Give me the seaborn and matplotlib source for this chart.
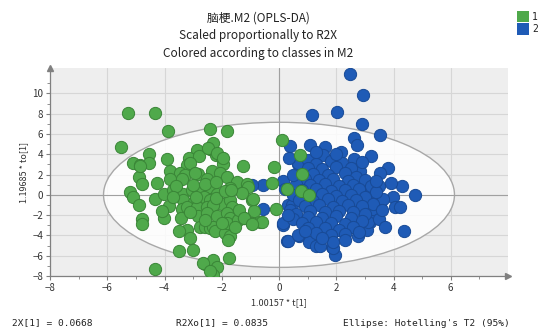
import numpy as np
import pandas as pd
import matplotlib
matplotlib.use("Agg")
import matplotlib.pyplot as plt
from matplotlib.patches import Ellipse, Rectangle
import seaborn as sns

# ---- score values (t[1] scaled, to[1] scaled) ----
class1_t = [
    -5.27, -4.32, -3.88, -2.40, -1.81, -5.52, -4.53, -3.92, -2.87, -2.40,
    -2.32, -5.11, -4.84, -4.53, -3.16, -2.81, -3.22, -2.19, -2.00, -1.96,
    -1.26, -2.34, -2.84, -3.80, -3.45, -3.28, -4.90, -4.78, -4.26, -3.80,
    -3.39, -2.52, -2.06, -1.82, -1.45, -1.13, -1.07, -1.71, -5.22, -5.10,
    -4.90, -4.32, -3.86, -4.03, -3.71, -3.34, -3.04, -2.75, -2.43, -2.17,
    -3.34, -2.97, -2.62, -2.40, -2.00, -1.71, -1.65, -0.95, -3.39, -3.20,
    -2.87, -2.52, -2.30, -2.84, -2.50, -2.17, -1.82, -1.71, -0.86, -4.78,
    -4.78, -4.03, -3.41, -3.22, -3.51, -3.10, -2.75, -2.58, -2.40, -2.29,
    -2.23, -1.88, -1.71, -1.82, -1.42, -1.24, -0.95, -0.66, -3.51, -2.99,
    -2.60, -2.29, -2.17, -2.31, -1.73, -4.32, 0.12, -0.18, -0.24, -0.09,
    0.73, 0.79, 0.27, 0.76, 1.06, -0.60, -4.87, -3.10, -2.93, -2.47,
    -2.17, -1.94, -3.00, -2.60, -2.20, -3.60, -2.90, -2.20, -1.90, -3.10,
    -2.60, -1.40, -1.30, -3.70, -4.10, -2.00, -1.53, -1.77, -0.90, -1.67,
    -2.64, -2.40, -1.24, -0.95,
]
class1_to = [
    8.07, 8.07, 6.33, 6.49, 6.33, 4.71, 4.04, 3.49, 4.46, 4.55,
    5.10, 3.17, 2.94, 3.17, 3.65, 3.81, 2.94, 3.97, 3.65, 3.00,
    2.84, 2.36, 2.10, 2.36, 2.20, 1.97, 1.78, 1.06, 1.16, 1.55,
    1.55, 1.55, 2.20, 1.78, 1.23, 1.06, 0.75, 0.68, 0.26, -0.22,
    -1.03, -0.39, -1.12, 0.10, 0.43, 0.10, 0.43, 0.43, 0.75, 0.10,
    -0.55, -0.71, -0.22, -0.55, -0.87, -0.55, -1.19, -0.48, -1.35, -1.20,
    -1.19, -1.19, -1.05, -2.09, -1.84, -2.09, -1.84, -2.32, -1.58, -2.38,
    -2.90, -2.26, -2.32, -3.45, -3.61, -4.26, -3.13, -3.19, -3.29, -3.13,
    -3.61, -3.77, -4.09, -2.81, -2.48, -2.26, -2.81, -2.64, -5.55, -5.48,
    -6.84, -6.42, -7.16, -7.87, -6.19, -7.32, 5.45, 2.75, 1.13, -1.35,
    3.97, 2.03, 0.58, 0.33, 0.00, -2.64, 2.84, 3.17, 2.20, 4.62,
    4.13, 3.65, 1.00, 1.10, 1.30, 0.90, -0.20, -0.30, 0.40, -1.70,
    -2.50, -1.50, 0.20, -0.20, -1.60, -2.80, -3.13, -4.42, -0.39, 0.43,
    -6.68, -7.50, -2.32, -2.90,
]

class2_t = [
    2.47, 2.92, 1.16, 2.01, 2.89, 3.54, 2.62, 2.72, 0.38, 1.08,
    1.60, 2.18, 3.23, 0.67, 1.54, 2.62, 3.81, 3.52, 2.82, -0.57,
    0.15, 4.31, 4.74, 3.50, 3.98, 4.04, 4.22, -0.55, 0.32, 0.13,
    0.27, 0.71, 1.05, 1.29, 1.84, 1.95, 2.76, 4.36, 3.17, 3.06,
    3.34, 3.52, 3.17, 2.99, -0.95, -1.38, 0.65, 0.15, 0.32, 0.67,
    0.44, 3.63, 3.29, 3.11, 1.89, 1.43,
    1.0, 1.3, 1.8, 2.2, 1.0, 1.5, 2.0, 2.5, 1.2, 1.7,
    2.3, 2.7, 0.9, 1.4, 1.9, 2.4, 3.0, 0.6, 1.1, 1.6,
    2.1, 2.6, 3.2, 0.8, 1.3, 1.8, 2.3, 2.8, 3.4, 0.5,
    1.0, 1.5, 2.0, 2.5, 3.0, 0.7, 1.2, 1.7, 2.2, 2.7,
    3.3, 0.4, 0.9, 1.4, 1.9, 2.4, 2.9, 0.6, 1.1, 1.6,
    2.1, 2.6, 3.0, 0.5, 1.0, 1.5, 2.0, 2.5, 2.9, 0.8,
    1.3, 1.8, 2.3, 2.6, 1.0, 1.6, 2.1, 1.3, 1.8, 2.3,
    0.3, 0.2, 0.5, 1.9, 2.3, 1.5, 0.9, 2.8, 3.5, 3.6,
    3.4, 3.9, 3.7, 0.35, 2.9, 1.3, 2.0,
]
class2_to = [
    11.88, 9.84, 7.84, 8.17, 6.94, 5.91, 5.65, 4.88, 4.78, 4.88,
    4.68, 4.23, 3.81, 3.07, 3.97, 3.49, 2.68, 2.20, 2.36, 1.01,
    1.33, 0.91, -0.06, 0.84, -0.22, -1.19, -1.19, -1.41, -1.03, -2.96,
    -4.51, -4.10, -4.68, -5.00, -5.13, -5.96, -4.10, -3.61, -2.64, -3.45,
    -1.84, -0.87, -0.55, 0.26, 0.97, 0.65, 3.17, -2.81, -4.58, -3.93,
    -1.03, -0.39, -1.35, -2.64, -5.22, -5.06,
    3.4, 3.0, 3.3, 3.1, 2.6, 2.5, 2.7, 2.6, 2.1, 2.0,
    2.2, 1.8, 1.6, 1.5, 1.6, 1.4, 1.5, 1.1, 1.0, 1.1,
    0.9, 1.0, 0.9, 0.5, 0.6, 0.4, 0.5, 0.6, 0.3, 0.0,
    -0.1, 0.1, -0.1, 0.0, -0.2, -0.5, -0.6, -0.4, -0.6, -0.5,
    -0.9, -1.5, -1.1, -1.0, -1.2, -1.0, -1.1, -1.9, -1.6, -1.7,
    -1.6, -1.7, -1.9, -2.4, -2.2, -2.3, -2.1, -2.3, -2.6, -2.8,
    -2.7, -2.8, -2.9, -3.2, -3.3, -3.3, -3.5, -3.8, -4.0, -3.9,
    -2.0, 0.6, 2.0, -4.6, -4.5, -4.3, -3.6, -3.7, -2.4, -1.5,
    1.4, 1.2, -3.2, 3.6, 3.2, 4.2, 4.0,
]

class_labels = ["1", "2"]
class_colors = {"1": "#4fa94b", "2": "#1f5bb6"}
edge_colors = {"1": "#3a8537", "2": "#184a96"}

x_ticks = [-8, -6, -4, -2, 0, 2, 4, 6]
y_ticks = [-8, -6, -4, -2, 0, 2, 4, 6, 8, 10]

title_lines = ["脑梗.M2 (OPLS-DA)", "Scaled proportionally to R2X",
               "Colored according to classes in M2"]
footer_left = "2X[1] = 0.0668"
footer_mid = "R2Xo[1] = 0.0835"
footer_right = "Ellipse: Hotelling's T2 (95%)"
x_label = "1.00157 * t[1]"
y_label = "1.19685 * to[1]"

# Hotelling T2 (95%) semi-axes
ell_a, ell_b = 6.13, 7.15

df = pd.concat([
    pd.DataFrame({"t": class1_t, "to": class1_to, "cls": "1"}),
    pd.DataFrame({"t": class2_t, "to": class2_to, "cls": "2"}),
], ignore_index=True)

sns.set_theme(style="white")
plt.rcParams["font.family"] = ["Noto Sans CJK SC", "DejaVu Sans"]

fig = plt.figure(figsize=(5.42, 3.31), dpi=100)
ax = fig.add_axes([50 / 542, 55 / 331, 458 / 542, 208 / 331])
ax.set_facecolor("#eeeeee")

ax.set_xlim(-8, 8)
ax.set_ylim(-8, 12.5)
ax.set_xticks(x_ticks)
ax.set_yticks(y_ticks)
ax.set_xticks(np.arange(-8, 8, 1), minor=True)
ax.set_yticks(np.arange(-8, 12, 1), minor=True)
ax.grid(True, which="major", color="#d6d6d6", lw=0.8, zorder=0)
ax.set_axisbelow(True)

ax.add_patch(Ellipse((0, 0), 2 * ell_a, 2 * ell_b, facecolor="white",
                     alpha=0.85, edgecolor="none", zorder=1))
ax.add_patch(Ellipse((0, 0), 2 * ell_a, 2 * ell_b, facecolor="none",
                     edgecolor="#a8a8a8", lw=1.0, zorder=2))
ax.axhline(0, color="#a0a0a0", lw=0.8, zorder=2)
ax.axvline(0, color="#a0a0a0", lw=0.8, zorder=2)

for cls in ["2", "1"]:
    sub = df[df["cls"] == cls]
    sns.scatterplot(data=sub, x="t", y="to", ax=ax, color=class_colors[cls],
                    edgecolor=edge_colors[cls], linewidth=0.7, s=78,
                    zorder=3, legend=False)

for side in ["top", "right"]:
    ax.spines[side].set_visible(False)
for side in ["left", "bottom"]:
    ax.spines[side].set_color("#808080")
    ax.spines[side].set_linewidth(0.9)
ax.plot(1, 0, ">", transform=ax.transAxes, color="#808080", ms=5,
        clip_on=False, zorder=5)
ax.plot(0, 1, "^", transform=ax.transAxes, color="#808080", ms=5,
        clip_on=False, zorder=5)

ax.tick_params(which="major", direction="out", length=3, width=0.8,
               color="#808080", labelsize=7, labelcolor="#333333", pad=2,
               bottom=True, left=True)
ax.tick_params(which="minor", direction="out", length=2, width=0.6,
               color="#808080", bottom=True, left=True)

ax.set_xlabel(x_label, fontsize=6.5, color="#333333", labelpad=4)
ax.set_ylabel(y_label, fontsize=6.5, color="#333333", labelpad=3)

for i, line in enumerate(title_lines):
    fig.text(258 / 542, 1 - (18 + 17.5 * i) / 331, line, ha="center",
             va="center", fontsize=8.5, color="#222222")

mono = "DejaVu Sans Mono"
fig.text(12 / 542, 1 - 323 / 331, footer_left, family=mono, fontsize=6.8,
         va="center", ha="left", color="#222222")
fig.text(176 / 542, 1 - 323 / 331, footer_mid, family=mono, fontsize=6.8,
         va="center", ha="left", color="#222222")
fig.text(510 / 542, 1 - 323 / 331, footer_right, family=mono, fontsize=6.8,
         va="center", ha="right", color="#222222")

# class key, top right
for i, cls in enumerate(class_labels):
    y0 = 1 - (22 + 12.5 * i) / 331
    fig.add_artist(Rectangle((517 / 542, y0), 12 / 542, 11.5 / 331,
                             transform=fig.transFigure,
                             facecolor=class_colors[cls], edgecolor="none"))
    fig.text(532 / 542, y0 + 5.5 / 331, cls, fontsize=7, va="center",
             ha="left", color="#222222", family=mono)

fig.savefig("out.png", dpi=100)
